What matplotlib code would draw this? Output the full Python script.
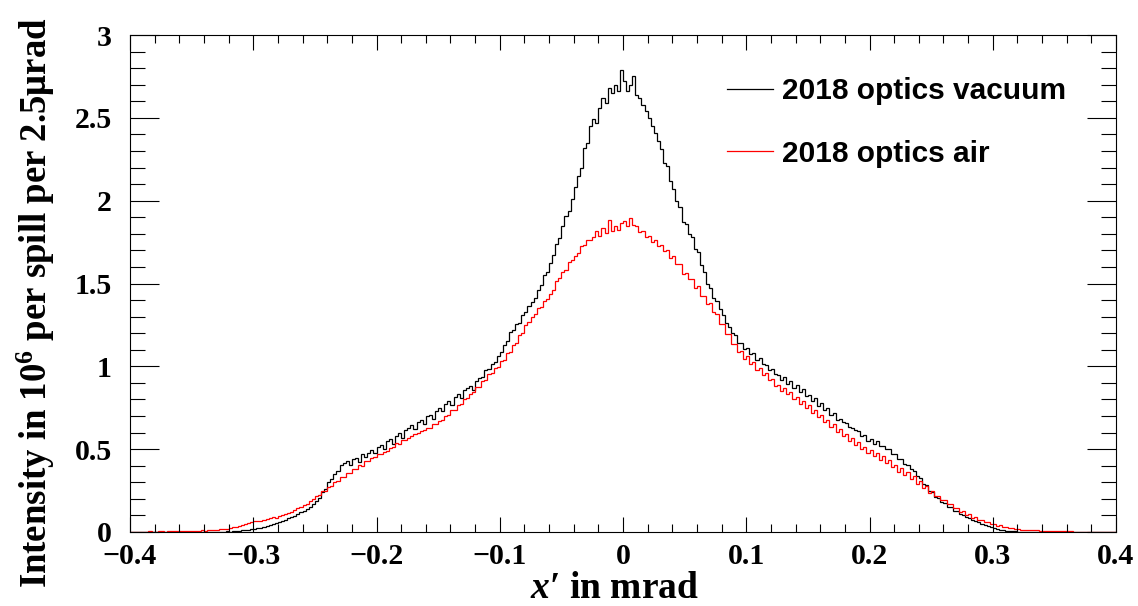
import numpy as np
import matplotlib
matplotlib.use("Agg")
import matplotlib.pyplot as plt
from matplotlib.ticker import MultipleLocator, FuncFormatter
from matplotlib.font_manager import FontProperties

# ---- data: histogram binning (mrad) and contents (1e6 per spill per 2.5 urad)
x_low = -0.4
x_high = 0.4
n_bins = 320

vacuum = [
    0, 0, 0, 0, 0, 0, 0, 0, 0, 0,
    0, 0, 0, 0, 0, 0, 0, 0, 0, 0,
    0, 0, 0, 0, 0, 0.001, 0, 0.001, 0.002, 0.002,
    0.003, 0.004, 0.003, 0.006, 0.007, 0.008, 0.010, 0.012, 0.014, 0.017,
    0.020, 0.024, 0.027, 0.032, 0.036, 0.042, 0.047, 0.053, 0.060, 0.066,
    0.074, 0.083, 0.090, 0.098, 0.108, 0.120, 0.128, 0.141, 0.152, 0.168,
    0.185, 0.205, 0.240, 0.262, 0.300, 0.318, 0.352, 0.370, 0.405, 0.418,
    0.428, 0.405, 0.442, 0.448, 0.425, 0.468, 0.450, 0.478, 0.492, 0.475,
    0.512, 0.525, 0.498, 0.548, 0.560, 0.530, 0.580, 0.595, 0.568, 0.618,
    0.628, 0.645, 0.620, 0.662, 0.678, 0.652, 0.698, 0.708, 0.680, 0.730,
    0.750, 0.728, 0.772, 0.788, 0.768, 0.812, 0.830, 0.808, 0.858, 0.868,
    0.882, 0.855, 0.912, 0.930, 0.935, 0.975, 0.982, 1.015, 1.025, 1.062,
    1.085, 1.128, 1.155, 1.205, 1.220, 1.255, 1.262, 1.312, 1.325, 1.365,
    1.390, 1.412, 1.462, 1.492, 1.552, 1.568, 1.622, 1.672, 1.738, 1.772,
    1.850, 1.905, 1.940, 2.010, 2.080, 2.150, 2.200, 2.320, 2.350, 2.450,
    2.490, 2.470, 2.560, 2.620, 2.590, 2.680, 2.650, 2.700, 2.660, 2.790,
    2.720, 2.660, 2.700, 2.750, 2.640, 2.620, 2.580, 2.540, 2.500, 2.450,
    2.410, 2.360, 2.310, 2.230, 2.210, 2.120, 2.070, 2.000, 1.960, 1.870,
    1.860, 1.800, 1.780, 1.710, 1.690, 1.610, 1.570, 1.500, 1.470, 1.410,
    1.395, 1.345, 1.310, 1.262, 1.240, 1.200, 1.190, 1.142, 1.138, 1.102,
    1.108, 1.072, 1.078, 1.038, 1.048, 1.012, 1.008, 0.978, 0.982, 0.952,
    0.950, 0.918, 0.938, 0.892, 0.912, 0.868, 0.888, 0.848, 0.866, 0.818,
    0.828, 0.788, 0.808, 0.758, 0.778, 0.738, 0.748, 0.708, 0.718, 0.678,
    0.682, 0.662, 0.658, 0.636, 0.628, 0.616, 0.608, 0.578, 0.588, 0.548,
    0.562, 0.532, 0.552, 0.518, 0.522, 0.498, 0.498, 0.472, 0.468, 0.442,
    0.438, 0.408, 0.402, 0.378, 0.368, 0.338, 0.328, 0.292, 0.282, 0.248,
    0.242, 0.210, 0.206, 0.180, 0.176, 0.150, 0.150, 0.126, 0.124, 0.106,
    0.100, 0.092, 0.084, 0.075, 0.066, 0.058, 0.050, 0.042, 0.035, 0.028,
    0.023, 0.018, 0.014, 0.011, 0.009, 0.007, 0.005, 0.004, 0.003, 0.002,
    0.002, 0.001, 0.001, 0.001, 0, 0.001, 0, 0, 0, 0,
    0, 0, 0, 0, 0, 0, 0, 0, 0, 0,
    0, 0, 0, 0, 0, 0, 0, 0, 0, 0,
]

air = [
    0.002, 0.003, 0.002, 0.003, 0.003, 0.002, 0.004, 0.003, 0.003, 0.004,
    0.004, 0.003, 0.005, 0.004, 0.005, 0.006, 0.005, 0.006, 0.007, 0.006,
    0.008, 0.007, 0.009, 0.010, 0.009, 0.011, 0.012, 0.014, 0.013, 0.016,
    0.018, 0.020, 0.024, 0.028, 0.032, 0.036, 0.042, 0.048, 0.052, 0.058,
    0.064, 0.068, 0.066, 0.072, 0.078, 0.082, 0.088, 0.086, 0.094, 0.100,
    0.106, 0.112, 0.120, 0.132, 0.142, 0.152, 0.160, 0.172, 0.186, 0.198,
    0.215, 0.222, 0.245, 0.250, 0.272, 0.278, 0.302, 0.305, 0.330, 0.335,
    0.355, 0.358, 0.380, 0.380, 0.404, 0.400, 0.426, 0.426, 0.446, 0.450,
    0.470, 0.472, 0.485, 0.490, 0.510, 0.515, 0.535, 0.532, 0.558, 0.555,
    0.570, 0.580, 0.590, 0.598, 0.612, 0.614, 0.630, 0.628, 0.652, 0.652,
    0.668, 0.678, 0.700, 0.708, 0.735, 0.738, 0.768, 0.772, 0.802, 0.808,
    0.832, 0.845, 0.875, 0.878, 0.912, 0.918, 0.952, 0.958, 0.992, 0.998,
    1.030, 1.040, 1.078, 1.088, 1.128, 1.142, 1.188, 1.202, 1.252, 1.268,
    1.300, 1.315, 1.350, 1.360, 1.392, 1.405, 1.438, 1.462, 1.518, 1.535,
    1.568, 1.582, 1.628, 1.642, 1.668, 1.682, 1.728, 1.732, 1.762, 1.762,
    1.780, 1.815, 1.785, 1.835, 1.805, 1.885, 1.815, 1.845, 1.825, 1.865,
    1.875, 1.845, 1.895, 1.855, 1.848, 1.812, 1.818, 1.782, 1.788, 1.752,
    1.762, 1.728, 1.735, 1.695, 1.705, 1.655, 1.665, 1.615, 1.615, 1.555,
    1.565, 1.525, 1.525, 1.475, 1.485, 1.425, 1.425, 1.375, 1.385, 1.325,
    1.315, 1.255, 1.255, 1.195, 1.195, 1.135, 1.135, 1.085, 1.095, 1.045,
    1.060, 1.015, 1.025, 0.980, 0.990, 0.945, 0.960, 0.915, 0.925, 0.880,
    0.890, 0.850, 0.870, 0.830, 0.844, 0.800, 0.814, 0.774, 0.788, 0.748,
    0.764, 0.720, 0.736, 0.692, 0.706, 0.662, 0.676, 0.632, 0.649, 0.604,
    0.619, 0.580, 0.594, 0.552, 0.569, 0.525, 0.542, 0.500, 0.516, 0.475,
    0.494, 0.457, 0.476, 0.437, 0.456, 0.415, 0.432, 0.390, 0.406, 0.365,
    0.384, 0.345, 0.362, 0.320, 0.336, 0.292, 0.306, 0.265, 0.279, 0.235,
    0.245, 0.219, 0.219, 0.193, 0.195, 0.168, 0.169, 0.143, 0.145, 0.121,
    0.124, 0.104, 0.106, 0.086, 0.090, 0.072, 0.075, 0.058, 0.062, 0.047,
    0.050, 0.038, 0.041, 0.031, 0.033, 0.024, 0.026, 0.019, 0.021, 0.015,
    0.015, 0.014, 0.012, 0.011, 0.010, 0.009, 0.008, 0.008, 0.007, 0.006,
    0.006, 0.005, 0.005, 0.004, 0.004, 0.004, 0.003, 0.003, 0.003, 0.003,
    0.002, 0.002, 0.002, 0.002, 0.002, 0.001, 0.001, 0.001, 0.001, 0.001,
]

series_labels = ["2018 optics vacuum", "2018 optics air"]
series_colors = ["black", "#ff0000"]

x_ticks = [-0.4, -0.3, -0.2, -0.1, 0, 0.1, 0.2, 0.3, 0.4]
y_ticks = [0, 0.5, 1, 1.5, 2, 2.5, 3]

# ---- style
plt.rcParams["font.family"] = ["Liberation Serif", "DejaVu Serif"]
plt.rcParams["font.weight"] = "bold"
plt.rcParams["mathtext.fontset"] = "custom"
plt.rcParams["mathtext.rm"] = "Liberation Serif:bold"
plt.rcParams["mathtext.it"] = "Liberation Serif:italic:bold"
plt.rcParams["mathtext.bf"] = "Liberation Serif:bold"
plt.rcParams["axes.unicode_minus"] = True

W, H = 1138, 606
fig = plt.figure(figsize=(W / 100, H / 100), dpi=100)
ax = fig.add_axes([130 / W, 1 - 532 / H, (1116 - 130) / W, (532 - 35) / H])

edges = np.linspace(x_low, x_high, n_bins + 1)
for vals, lab, col in zip([vacuum, air], series_labels, series_colors):
    ax.stairs(vals, edges, color=col, linewidth=0.9, label=lab, baseline=None)

ax.set_xlim(x_low, x_high)
ax.set_ylim(0, 3)
ax.set_xticks(x_ticks)
ax.set_yticks(y_ticks)
ax.xaxis.set_minor_locator(MultipleLocator(0.02))
ax.yaxis.set_minor_locator(MultipleLocator(0.1))


def fmt(v, pos):
    s = "%g" % round(v, 3)
    return s.replace("-", "\u2212")


ax.xaxis.set_major_formatter(FuncFormatter(fmt))
ax.yaxis.set_major_formatter(FuncFormatter(fmt))

ax.tick_params(which="both", direction="in", top=True, right=True, width=0.8,
               labelsize=21.5, colors="black")
ax.tick_params(axis="x", which="major", length=11, pad=8)
ax.tick_params(axis="x", which="minor", length=5.5)
ax.tick_params(axis="y", which="major", length=21, pad=13)
ax.tick_params(axis="y", which="minor", length=10.5)
for lbl in ax.get_xticklabels() + ax.get_yticklabels():
    lbl.set_fontweight("bold")
for sp in ax.spines.values():
    sp.set_linewidth(0.8)

fig.text(36 / W, 1 - 18 / H, r"Intensity in 10$^{6}$ per spill per 2.5$\mathrm{\mu}$rad",
         rotation=90, ha="center", va="top", fontsize=26.5, fontweight="bold")
fig.text(614 / W, 1 - 598 / H, r"$x$" + "\u2032 in mrad", ha="center", va="baseline",
         fontsize=27, fontweight="bold")

leg_font = FontProperties(family="Liberation Sans", weight="bold", size=21.5)
leg = ax.legend(loc="upper left", bbox_to_anchor=(727 / W, 1 - 77 / H),
                bbox_transform=fig.transFigure, frameon=False, prop=leg_font,
                handlelength=1.53, handletextpad=0.3, labelspacing=1.16,
                borderpad=0, borderaxespad=0)
for h in leg.get_lines():
    h.set_linewidth(0.9)

fig.savefig("out.png", dpi=100)
